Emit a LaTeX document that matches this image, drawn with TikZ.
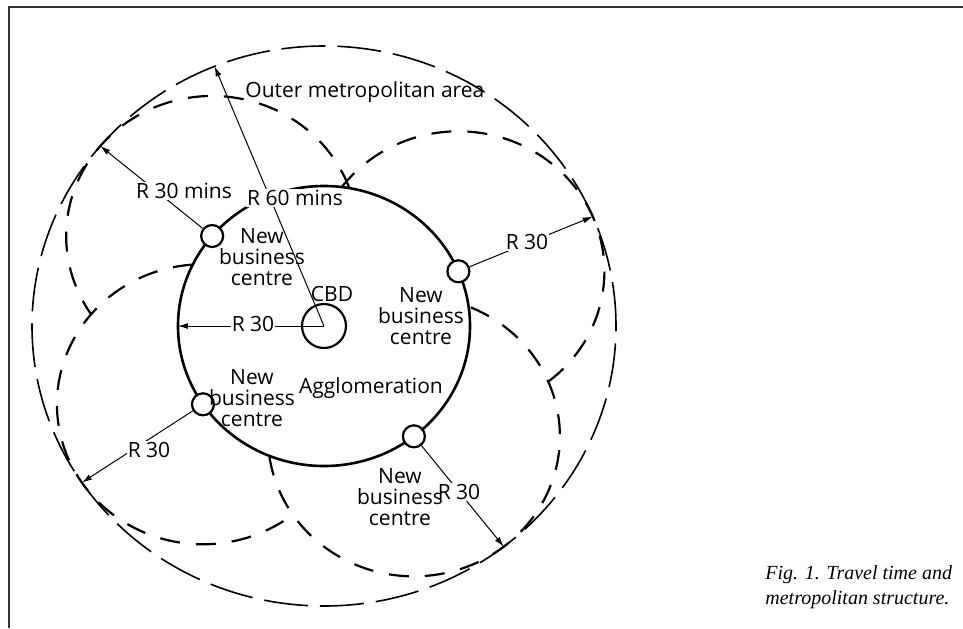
\documentclass[tikz,border=0pt]{standalone}
\usepackage{fontspec}
\setmainfont{Open Sans}
\newfontfamily\capfont{Liberation Serif}
\usetikzlibrary{arrows.meta}

\begin{document}
\begin{tikzpicture}[x=0.5pt,y=0.5pt,
        agglo/.style={line width=1.3pt},
        zone/.style={line width=1.1pt,dash pattern=on 10pt off 8pt},
        metro/.style={line width=0.8pt,dash pattern=on 22pt off 6pt},
        nbc/.style={circle,draw,line width=1.1pt,fill=white,minimum size=11pt,inner sep=0pt},
        cbdring/.style={circle,draw,line width=1.1pt,minimum size=22pt,inner sep=0pt},
        rarrow/.style={line width=0.5pt,-{Latex[length=5pt,width=3pt]}},
        lab/.style={fill=white,inner sep=0.6pt,font=\fontsize{10.5}{10.5}\selectfont},
        txt/.style={align=center,inner sep=0pt,font=\fontsize{10.5}{10.6}\selectfont}]
        \useasboundingbox (-324,-302) rectangle (639,326);
        \draw[line width=0.8pt,black!80] (-315,-302) -- (-315,319) -- (639,319);

        \draw[agglo] (0,0) ellipse[x radius=146,y radius=140];
        \draw[metro] (0,0) ellipse[x radius=292,y radius=280];

        \node[nbc] (nb1) at (140:146 and 140) {};
        \node[nbc] (nb2) at (23:146 and 140) {};
        \node[nbc] (nb3) at (214:146 and 140) {};
        \node[nbc] (nb4) at (308:146 and 140) {};
        \node[cbdring] (cbd) at (0,0) {};

        \draw[zone] (nb1.center) ++(20:146 and 140) arc[start angle=20,end angle=214,x radius=146,y radius=140];
        \draw[zone] (nb2.center) ++(-52:146 and 140) arc[start angle=-52,end angle=143,x radius=146,y radius=140];
        \draw[zone] (nb3.center) ++(94:146 and 140) arc[start angle=94,end angle=308,x radius=146,y radius=140];
        \draw[zone] (nb4.center) ++(188:146 and 140) arc[start angle=188,end angle=428,x radius=146,y radius=140];

        \coordinate (t1) at (140:292 and 280);
        \coordinate (t2) at (23:292 and 280);
        \coordinate (t3) at (214:292 and 280);
        \coordinate (t4) at (308:292 and 280);
        \coordinate (p60) at (112:292 and 280);
        \coordinate (pw) at (180:146 and 140);

        \draw[rarrow] (cbd.center) -- (p60);
        \draw[rarrow] (cbd.center) -- (pw);
        \draw[rarrow] (nb1) -- (t1);
        \draw[rarrow] (nb2) -- (t2);
        \draw[rarrow] (nb3) -- (t3);
        \draw[rarrow] (nb4) -- (t4);

        \node[lab] (r60) at (-29,128) {R 60 mins};
        \node[lab] (r30a) at (-140,135) {R 30 mins};
        \node[lab] (r30w) at (-71,2) {R 30};
        \node[lab] (r30b) at (203,84) {R 30};
        \node[lab] (r30c) at (-175,-124) {R 30};
        \node[lab] (r30d) at (135,-166) {R 30};

        \node[txt,anchor=west] (omet) at (-79,234) {Outer metropolitan area};
        \node[txt] (cbdt) at (8,32) {CBD};
        \node[txt] (aggt) at (47,-62) {Agglomeration};
        \node[txt] (nbt1) at (-62,69) {New\\business\\centre};
        \node[txt] (nbt2) at (97,10) {New\\business\\centre};
        \node[txt] (nbt3) at (-72,-72) {New\\business\\centre};
        \node[txt] (nbt4) at (76,-171) {New\\business\\centre};

        \node[anchor=west,align=left,inner sep=0pt,font=\capfont\itshape\fontsize{10}{12.5}\selectfont] (cap) at (441,-261) {Fig. 1. Travel time and\\metropolitan structure.};
    \end{tikzpicture}
\end{document}
